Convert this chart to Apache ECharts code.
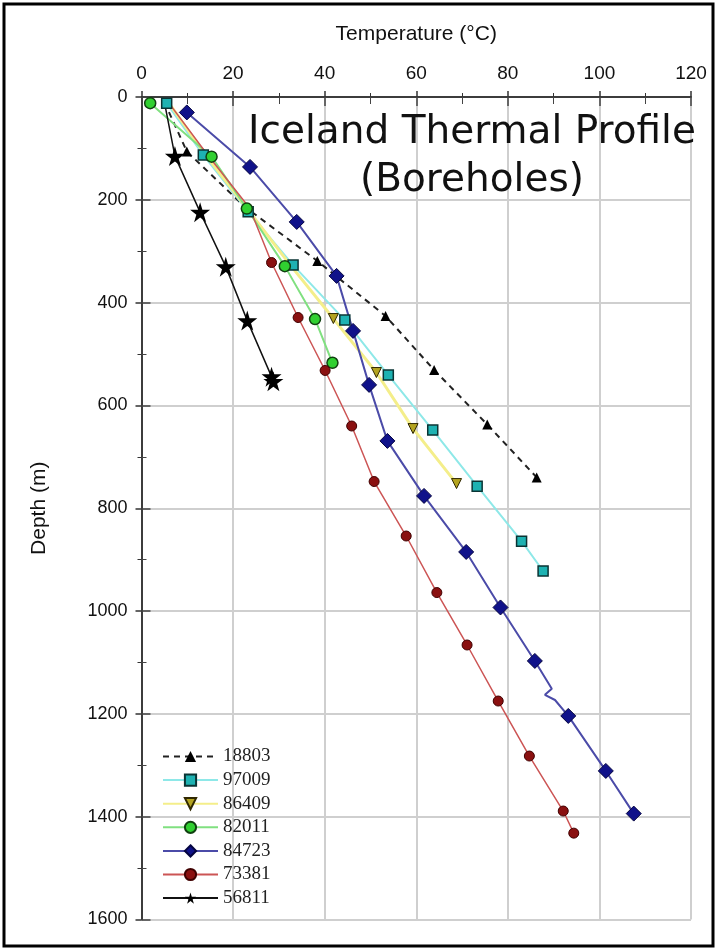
<!DOCTYPE html>
<html>
<head>
<meta charset="utf-8">
<script src="https://cdn.jsdelivr.net/npm/echarts@6/dist/echarts.min.js"></script>
<style>
  html, body { margin: 0; padding: 0; background: #fff; }
  #chart { width: 717px; height: 951px; }
</style>
</head>
<body>
<div id="chart"></div>
<script>
// borehole names (legend order)
const boreholes = ['18803', '97009', '86409', '82011', '84723', '73381', '56811'];

// [temperature °C, depth m]
const s18803 = [[5, 10], [9.9, 106], [22.5, 213], [38.4, 319], [53.3, 426], [63.9, 531], [75.5, 637], [86.3, 740]];
const s97009 = [[5.5, 12], [13.5, 113], [23.3, 223], [33.1, 327], [44.4, 434], [53.9, 541], [63.6, 648], [73.3, 757], [83.0, 864], [87.7, 922]];
const s86409 = [[6, 12], [14, 113], [23.5, 222], [32.5, 327], [41.9, 431], [51.3, 536], [59.3, 645], [68.8, 752]];
const s82011 = [[1.9, 12], [15.3, 116], [23.0, 217], [31.3, 329], [37.9, 432], [41.7, 517]];
const s84723 = [[9.9, 30], [23.7, 136], [33.9, 243], [42.6, 348], [46.2, 455], [49.7, 560], [53.7, 669], [61.7, 776], [70.9, 885], [78.4, 993], [85.9, 1097], [89.6, 1151], [88.1, 1163], [90.3, 1173], [93.2, 1204], [101.4, 1311], [107.5, 1394]];
const s73381 = [[6, 12], [14.2, 110], [23.6, 216], [28.4, 322], [34.2, 429], [40.1, 532], [45.9, 640], [50.8, 748], [57.8, 854], [64.5, 964], [71.1, 1066], [77.9, 1175], [84.7, 1282], [92.1, 1389], [94.4, 1432]];
const s56811 = [[5, 10], [7.3, 115], [12.8, 224], [18.4, 330], [23.1, 435], [28.4, 544], [28.8, 553]];

// points drawn as line only (no marker visible in the picture)
const noMarker = {
  '18803': [0, 2],
  '97009': [],
  '86409': [0, 1, 2, 3],
  '82011': [],
  '84723': [11, 12, 13],
  '73381': [0, 1, 2],
  '56811': [0]
};

const tempTicks = { min: 0, max: 120, step: 20 };
const depthTicks = { min: 0, max: 1600, step: 200 };

const starPath = 'path://M50,0 L61,35 L98,35 L68,57 L79,91 L50,70 L21,91 L32,57 L2,35 L39,35 Z';
const downTri = 'path://M0,0 L10,0 L5,9 Z';

const chart = echarts.init(document.getElementById('chart'));

function mk(name, pts, line, marker) {
  const skip = noMarker[name];
  return {
    name: name,
    type: 'line',
    xAxisIndex: 0,
    yAxisIndex: 0,
    data: pts.map((p, i) => (skip.indexOf(i) >= 0 ? { value: p, symbol: 'none' } : p)),
    symbol: marker.symbol,
    symbolSize: marker.size,
    showAllSymbol: true,
    lineStyle: line,
    itemStyle: { color: marker.color, borderColor: marker.border, borderWidth: marker.bw },
    emphasis: { disabled: true },
    animation: false
  };
}

const series = [
  mk('18803', s18803, { color: '#222', width: 2, type: [6, 5] }, { symbol: 'triangle', size: 10, color: '#000', border: '#000', bw: 0 }),
  mk('97009', s97009, { color: '#8ee8e8', width: 2 }, { symbol: 'rect', size: 10, color: '#1eb2b2', border: '#0a3434', bw: 1.5 }),
  mk('86409', s86409, { color: '#f4ee8a', width: 3 }, { symbol: downTri, size: 10, color: '#b4a420', border: '#302800', bw: 1 }),
  mk('82011', s82011, { color: '#80e080', width: 2 }, { symbol: 'circle', size: 11, color: '#30d030', border: '#104010', bw: 1.5 }),
  mk('84723', s84723, { color: '#4b4ba8', width: 2 }, { symbol: 'diamond', size: 15, color: '#10128a', border: '#050540', bw: 1 }),
  mk('73381', s73381, { color: '#cc5555', width: 1.5 }, { symbol: 'circle', size: 10, color: '#8a1010', border: '#400000', bw: 1 }),
  mk('56811', s56811, { color: '#111', width: 1.5 }, { symbol: starPath, size: 20, color: '#000', border: '#000', bw: 0 })
];

const axisLine = { show: true, lineStyle: { color: '#333', width: 1.5 } };
const plain = v => String(v);

chart.setOption({
  backgroundColor: '#fff',
  animation: false,
  textStyle: { fontFamily: 'Liberation Sans' },
  title: {
    text: 'Iceland Thermal Profile\n(Boreholes)',
    left: 467,
    top: 104,
    textAlign: 'center',
    textStyle: { fontFamily: 'DejaVu Sans', fontSize: 39, fontWeight: 'normal', color: '#111', lineHeight: 48, align: 'center' }
  },
  graphic: [{
    type: 'rect',
    shape: { x: 4, y: 4, width: 709, height: 942 },
    style: { fill: 'none', stroke: '#000', lineWidth: 3 },
    silent: true
  }],
  legend: {
    data: boreholes,
    orient: 'vertical',
    left: 157,
    top: 742,
    itemWidth: 55,
    itemHeight: 14,
    itemGap: 4.6,
    textStyle: { fontFamily: 'Liberation Serif', fontSize: 19, color: '#222' }
  },
  grid: { left: 141.5, right: 26, top: 97, bottom: 31.5, containLabel: false },
  xAxis: [{
    type: 'value',
    position: 'top',
    min: tempTicks.min, max: tempTicks.max, interval: tempTicks.step,
    name: 'Temperature (°C)',
    nameLocation: 'middle',
    nameGap: 52,
    nameTextStyle: { fontSize: 21, color: '#111' },
    axisLine: axisLine,
    axisTick: { show: true, length: 6, lineStyle: { color: '#333', width: 1.5 } },
    minorTick: { show: true, splitNumber: 2, length: 4, lineStyle: { color: '#333' } },
    axisLabel: { fontSize: 19, color: '#111', margin: 14, formatter: plain },
    splitLine: { show: true, lineStyle: { color: '#cfcfcf', width: 2 } }
  }, {
    type: 'value',
    position: 'bottom',
    min: tempTicks.min, max: tempTicks.max, interval: tempTicks.step,
    axisLine: axisLine,
    axisTick: { show: true, length: 9, lineStyle: { color: '#444', width: 1.5 } },
    minorTick: { show: true, splitNumber: 2, length: 7, lineStyle: { color: '#444' } },
    axisLabel: { show: false },
    splitLine: { show: false }
  }],
  yAxis: [{
    type: 'value',
    inverse: true,
    min: depthTicks.min, max: depthTicks.max, interval: depthTicks.step,
    name: 'Depth (m)',
    nameLocation: 'middle',
    nameGap: 92,
    nameTextStyle: { fontSize: 21, color: '#111' },
    axisLine: axisLine,
    axisTick: { show: true, length: 6, lineStyle: { color: '#333', width: 1.5 } },
    minorTick: { show: true, splitNumber: 2, length: 4, lineStyle: { color: '#333' } },
    axisLabel: { fontSize: 18, color: '#111', margin: 14, formatter: plain },
    splitLine: { show: true, lineStyle: { color: '#cfcfcf', width: 2 } }
  }, {
    type: 'value',
    position: 'right',
    inverse: true,
    min: depthTicks.min, max: depthTicks.max, interval: depthTicks.step,
    axisLine: axisLine,
    axisTick: { show: true, length: 9, lineStyle: { color: '#444', width: 1.5 } },
    minorTick: { show: true, splitNumber: 2, length: 5, lineStyle: { color: '#444' } },
    axisLabel: { show: false },
    splitLine: { show: false }
  }],
  series: series
});
</script>
</body>
</html>
